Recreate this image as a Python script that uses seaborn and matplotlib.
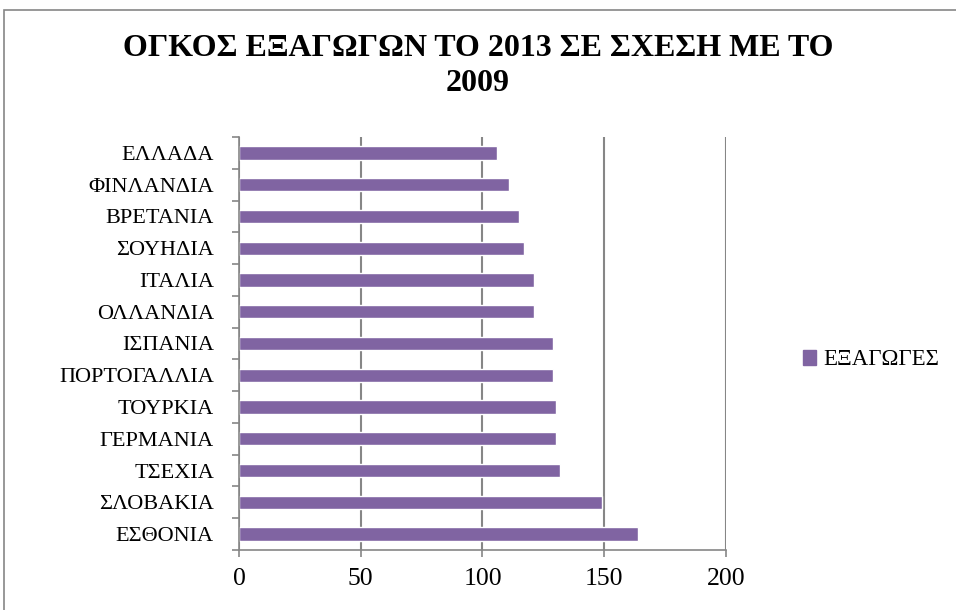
import numpy as np
import pandas as pd
import matplotlib
matplotlib.use("Agg")
import matplotlib.pyplot as plt
import matplotlib.patches as mpatches
import seaborn as sns

# datos
paises = ['ΕΛΛΑΔΑ', 'ΦΙΝΛΑΝΔΙΑ', 'ΒΡΕΤΑΝΙΑ', 'ΣΟΥΗΔΙΑ', 'ΙΤΑΛΙΑ', 'ΟΛΛΑΝΔΙΑ',
          'ΙΣΠΑΝΙΑ', 'ΠΟΡΤΟΓΑΛΛΙΑ', 'ΤΟΥΡΚΙΑ', 'ΓΕΡΜΑΝΙΑ', 'ΤΣΕΧΙΑ',
          'ΣΛΟΒΑΚΙΑ', 'ΕΣΘΟΝΙΑ']
exagoges = [106, 111, 115, 117, 121, 121, 129, 129, 130, 130, 132, 149, 164]
x_ticks = [0, 50, 100, 150, 200]
titulo = 'ΟΓΚΟΣ ΕΞΑΓΩΓΩΝ ΤΟ 2013 ΣΕ ΣΧΕΣΗ ΜΕ ΤΟ\n2009'
serie = 'ΕΞΑΓΩΓΕΣ'

df = pd.DataFrame({'Pais': paises, 'Valor': exagoges})

sns.set_style('white')
plt.rcParams['font.family'] = ['Liberation Serif', 'DejaVu Serif']
plt.rcParams['text.color'] = 'black'
plt.rcParams['xtick.color'] = 'black'
plt.rcParams['ytick.color'] = 'black'

gris = '#868686'
morado = '#8064A2'

fig = plt.figure(figsize=(9.56, 6.10), dpi=100)
ax = fig.add_axes([0.25, 0.0984, 0.5094, 0.677])

sns.barplot(data=df, y='Pais', x='Valor', orient='h', color=morado,
            width=0.42, saturation=1, ax=ax)

ax.set_xlim(0, 200)
ax.set_xticks(x_ticks)
ax.set_ylim(len(paises) - 0.5, -0.5)
ax.set_yticks(np.arange(len(paises) + 1) - 0.5, minor=True)
ax.set_xlabel('')
ax.set_ylabel('')

ax.grid(axis='x', color=gris, linewidth=1.5)
ax.set_axisbelow(True)
for s in ['top', 'right']:
    ax.spines[s].set_visible(False)
for s in ['left', 'bottom']:
    ax.spines[s].set_color(gris)
    ax.spines[s].set_linewidth(1.2)

ax.tick_params(axis='y', which='major', length=0, pad=18, labelsize=16,
               labelcolor='black')
ax.tick_params(axis='y', which='minor', length=5, color=gris, width=1.2, left=True)
ax.tick_params(axis='x', which='major', length=5, color=gris, width=1.2,
               labelsize=18.5, pad=8, bottom=True, labelcolor='black')

fig.suptitle(titulo, fontsize=23, fontweight='bold', y=0.945,
             linespacing=1.3, color='black')

handle = mpatches.Patch(color=morado, label=serie)
fig.legend(handles=[handle], loc='center left', bbox_to_anchor=(0.818, 0.41),
           frameon=False, fontsize=16.5, handlelength=0.6, handleheight=0.6,
           handletextpad=0.3)

# marco exterior del grafico
fig.patches.append(mpatches.Rectangle((0.004, -0.1), 1.2, 1.084, fill=False,
                                      edgecolor=gris, linewidth=1.2,
                                      transform=fig.transFigure))

plt.savefig('out.png', dpi=100)
